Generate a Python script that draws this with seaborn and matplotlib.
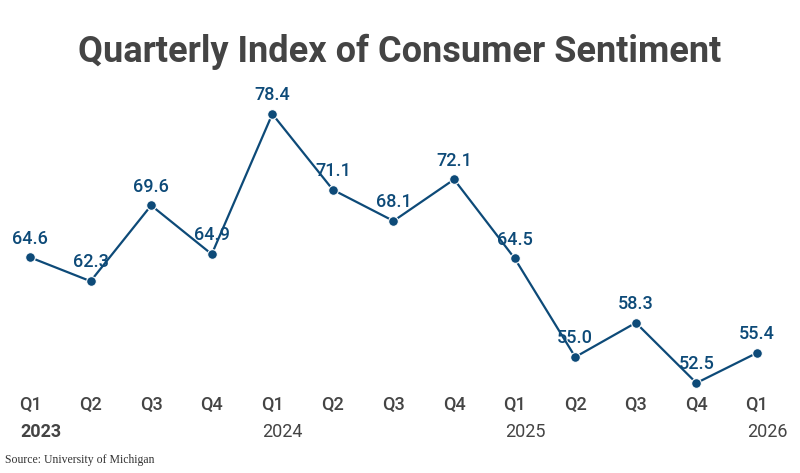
import numpy as np
import pandas as pd
import seaborn as sns
import matplotlib.pyplot as plt

# data
quarters = ['Q1', 'Q2', 'Q3', 'Q4', 'Q1', 'Q2', 'Q3', 'Q4', 'Q1', 'Q2', 'Q3', 'Q4', 'Q1']
years = ['2023', '', '', '', '2024', '', '', '', '2025', '', '', '', '2026']
sentiment = [64.6, 62.3, 69.6, 64.9, 78.4, 71.1, 68.1, 72.1, 64.5, 55.0, 58.3, 52.5, 55.4]

df = pd.DataFrame({'pos': np.arange(len(sentiment)), 'value': sentiment})

sns.set_style("white")
plt.rcParams['font.family'] = ['Roboto', 'DejaVu Sans']

line_col = '#0d4a78'
text_col = '#444444'

fig = plt.figure(figsize=(8, 4.73), dpi=100)
ax = fig.add_axes([30/800, (473-383)/473, 727/800, (383-114)/473])

sns.lineplot(data=df, x='pos', y='value', ax=ax, color=line_col, linewidth=1.6,
             marker='o', markersize=7, markeredgecolor='white', markeredgewidth=0.8,
             clip_on=False, zorder=3)

ax.set_xlim(0, len(sentiment) - 1)
ax.set_ylim(min(sentiment), max(sentiment))

# value labels
for i, v in enumerate(sentiment):
    ax.annotate(f'{v:.1f}', xy=(i, v), xytext=(0, 7), textcoords='offset points',
                ha='center', va='bottom', fontsize=13, fontweight='medium',
                color=line_col, zorder=4)

# x labels: quarter + year (year left-aligned under quarter)
ax.set_xticks(df['pos'])
ax.set_xticklabels([''] * len(quarters))
ax.tick_params(length=0)
for i, (q, y) in enumerate(zip(quarters, years)):
    ax.annotate(q, xy=(i, 0), xycoords=('data', 'axes fraction'), xytext=(0, -16),
                textcoords='offset points', ha='center', va='center',
                fontsize=13, fontweight='medium', color=text_col)
    if y:
        ax.annotate(y, xy=(i, 0), xycoords=('data', 'axes fraction'), xytext=(-7.2, -35),
                    textcoords='offset points', ha='left', va='center',
                    fontsize=13, fontweight='bold' if y == '2023' else 'normal',
                    color=text_col)

ax.set_yticks([])
ax.set_xlabel('')
ax.set_ylabel('')
sns.despine(ax=ax, left=True, bottom=True)

fig.text(0.5, (473-52)/473, 'Quarterly Index of Consumer Sentiment', ha='center', va='center',
         fontsize=26, fontweight='bold', color=text_col)
fig.text(5/800, (473-460)/473, 'Source: University of Michigan', ha='left', va='center',
         fontsize=8.5, family='Liberation Serif', color='#333333')

fig.savefig('out.png', dpi=100)
